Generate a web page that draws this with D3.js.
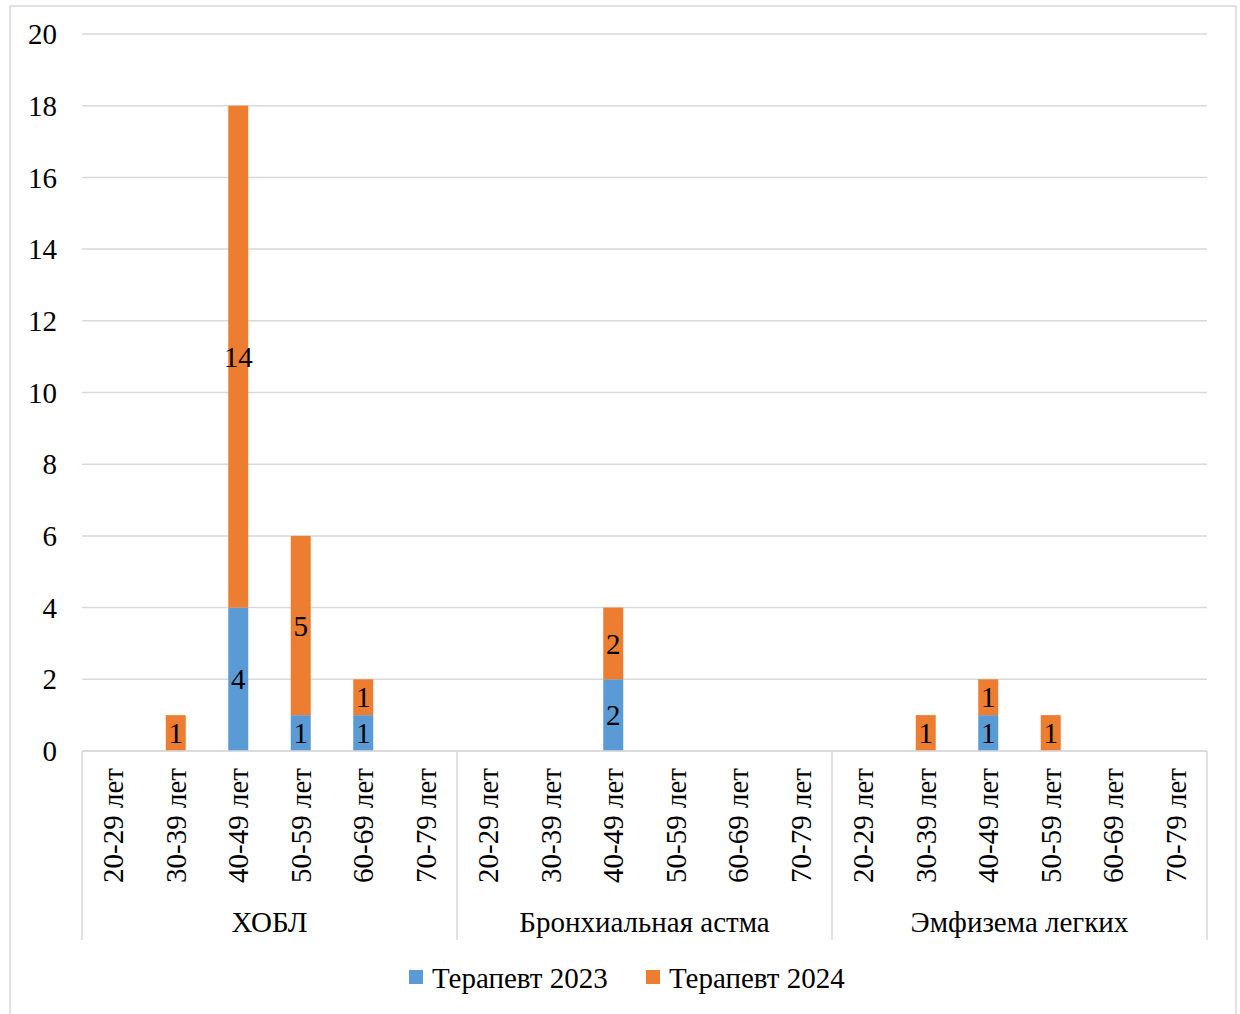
<!DOCTYPE html>
<html>
<head>
<meta charset="utf-8">
<script src="https://cdn.jsdelivr.net/npm/d3@7"></script>
<style>
  html, body { margin: 0; padding: 0; background: #fff; }
  svg { display: block; font-family: "Liberation Serif", "Times New Roman", serif; }
</style>
</head>
<body>
<svg id="chart" width="1240" height="1014"></svg>
<script>
// Age bands repeated inside each disease group
const ageBands = ["20-29 лет", "30-39 лет", "40-49 лет", "50-59 лет", "60-69 лет", "70-79 лет"];
const diseases = ["ХОБЛ", "Бронхиальная астма", "Эмфизема легких"];
const seriesNames = ["Терапевт 2023", "Терапевт 2024"];
const seriesColors = ["#5b9bd5", "#ed7d31"];

// Counts per disease, in ageBands order
const therapist2023 = [
  [0, 0, 4, 1, 1, 0],
  [0, 0, 2, 0, 0, 0],
  [0, 0, 1, 0, 0, 0]
];
const therapist2024 = [
  [0, 1, 14, 5, 1, 0],
  [0, 0, 2, 0, 0, 0],
  [0, 1, 1, 1, 0, 0]
];
const yTicks = [0, 2, 4, 6, 8, 10, 12, 14, 16, 18, 20];

const svg = d3.select("#chart");
const grid = "#d9d9d9";
const fontSize = 29;
const plotLeft = 82, plotRight = 1207, plotTop = 34, plotBottom = 751;

// outer frame
svg.append("rect")
  .attr("x", 10).attr("y", 6).attr("width", 1226).attr("height", 1020)
  .attr("fill", "none").attr("stroke", grid).attr("stroke-width", 1.5);

// flat row list: one row per disease/age pair
const rows = [];
diseases.forEach((d, gi) => ageBands.forEach((a, ai) => {
  rows.push({ key: gi + "|" + ai, disease: d, age: a, gi, ai,
              v: [therapist2023[gi][ai], therapist2024[gi][ai]] });
}));

const x = d3.scaleBand().domain(rows.map(r => r.key)).range([plotLeft, plotRight]).paddingInner(0.68).paddingOuter(0.34);
const step = x.step();
const y = d3.scaleLinear().domain([0, 20]).range([plotBottom, plotTop]);

// horizontal grid + y labels
svg.append("g").selectAll("line").data(yTicks).join("line")
  .attr("x1", plotLeft).attr("x2", plotRight)
  .attr("y1", d => y(d)).attr("y2", d => y(d))
  .attr("stroke", grid).attr("stroke-width", 1.5);

svg.append("g").selectAll("text").data(yTicks).join("text")
  .attr("x", 57).attr("y", d => y(d)).attr("dy", "0.35em")
  .attr("text-anchor", "end").attr("font-size", fontSize).attr("fill", "#000")
  .text(d => d);

// stacked segments
const stack = d3.stack().keys([0, 1]).value((r, k) => r.v[k]);
const layers = stack(rows);

const bars = svg.append("g");
layers.forEach((layer, si) => {
  bars.append("g").attr("fill", seriesColors[si]).selectAll("rect")
    .data(layer.filter(s => s[1] - s[0] > 0)).join("rect")
    .attr("x", s => x(s.data.key)).attr("width", x.bandwidth())
    .attr("y", s => y(s[1])).attr("height", s => y(s[0]) - y(s[1]));
});

// segment value labels
layers.forEach((layer, si) => {
  bars.append("g").selectAll("text")
    .data(layer.filter(s => s[1] - s[0] > 0)).join("text")
    .attr("x", s => x(s.data.key) + x.bandwidth() / 2)
    .attr("y", s => y((s[0] + s[1]) / 2)).attr("dy", "0.35em")
    .attr("text-anchor", "middle").attr("font-size", fontSize).attr("fill", "#000")
    .text(s => s[1] - s[0]);
});

// x axis line
svg.append("line").attr("x1", plotLeft).attr("x2", plotRight).attr("y1", plotBottom).attr("y2", plotBottom)
  .attr("stroke", grid).attr("stroke-width", 1.5);

// group separators
const groupEdges = d3.range(diseases.length + 1).map(i => plotLeft + i * step * ageBands.length);
svg.append("g").selectAll("line").data(groupEdges).join("line")
  .attr("x1", d => d).attr("x2", d => d).attr("y1", plotBottom).attr("y2", 940)
  .attr("stroke", grid).attr("stroke-width", 1.5);

// rotated age labels
svg.append("g").selectAll("text").data(rows).join("text")
  .attr("transform", r => `translate(${x(r.key) + x.bandwidth() / 2},768) rotate(-90)`)
  .attr("dy", "0.35em").attr("text-anchor", "end")
  .attr("font-size", fontSize).attr("fill", "#000")
  .text(r => r.age);

// disease group labels
svg.append("g").selectAll("text").data(diseases).join("text")
  .attr("x", (d, i) => (groupEdges[i] + groupEdges[i + 1]) / 2).attr("y", 922).attr("dy", "0.35em")
  .attr("text-anchor", "middle").attr("font-size", fontSize).attr("fill", "#000")
  .text(d => d);

// legend
const legendX = [409, 646];
const legend = svg.append("g").selectAll("g").data(seriesNames).join("g")
  .attr("transform", (d, i) => `translate(${legendX[i]},0)`);
legend.append("rect").attr("x", 0).attr("y", 970).attr("width", 14).attr("height", 14)
  .attr("fill", (d, i) => seriesColors[i]);
legend.append("text").attr("x", 23).attr("y", 978).attr("dy", "0.35em")
  .attr("font-size", fontSize).attr("fill", "#000").text(d => d);
</script>
</body>
</html>
